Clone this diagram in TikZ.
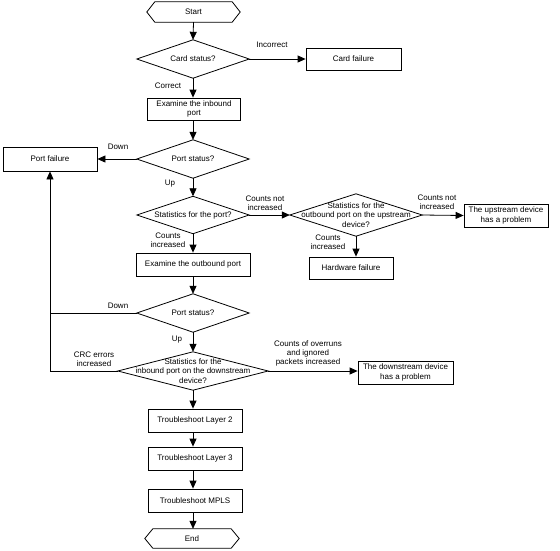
\documentclass[tikz,border=0pt]{standalone}
\usepackage{fontspec}
\setmainfont{Liberation Sans}
\usetikzlibrary{arrows.meta}
\newcommand\fs{\fontsize{8}{9.3}\selectfont}
\newcommand\drawdia[1]{\draw[ln] (#1.north) -- (#1.east) -- (#1.south) -- (#1.west) -- cycle;}
\newcommand\drawhex[1]{\draw[ln] ([xshift=8pt]#1.north west) -- ([xshift=-8pt]#1.north east) -- (#1.east) -- ([xshift=-8pt]#1.south east) -- ([xshift=8pt]#1.south west) -- (#1.west) -- cycle;}
\tikzset{
  ln/.style={line width=0.8pt},
  ghost/.style 2 args={minimum width=#1, minimum height=#2, inner sep=0pt, align=center, font=\fs},
  box/.style 2 args={draw, ln, minimum width=#1, minimum height=#2, inner sep=0pt, align=center, font=\fs},
  lbl/.style={align=center, inner sep=0pt, font=\fs},
  arr/.style={ln, -{Triangle[length=8pt,width=7pt]}},
}
\begin{document}
\begin{tikzpicture}[x=1pt,y=-1pt]
\useasboundingbox (0,0) rectangle (560,550);
% shapes
\node[ghost={93}{20}] (start) at (193.5,12) {Start};
\node[ghost={112}{38}] (card) at (193,59) {Card status?};
\node[box={95}{22}] (cardfail) at (353.5,59) {Card failure};
\node[box={93}{22}] (inb) at (194,109) {Examine the inbound\\port};
\node[ghost={112}{38}] (ps1) at (193,159) {Port status?};
\node[box={94}{24}] (pfail) at (50,159) {Port failure};
\node[ghost={112}{37}] (stat) at (193,215) {Statistics for the port?};
\node[ghost={132}{42}] (up) at (356,215) {Statistics for the\\outbound port on the upstream\\device?};
\node[box={84}{23}] (upprob) at (506,215.5) {The upstream device\\has a problem};
\node[box={84}{22}] (hw) at (351,268) {Hardware failure};
\node[box={114}{23}] (outb) at (193,264.5) {Examine the outbound port};
\node[ghost={112}{38}] (ps2) at (193,313) {Port status?};
\node[ghost={150}{38}] (down) at (193,371) {Statistics for the\\inbound port on the downstream\\device?};
\node[box={95}{23}] (downprob) at (405.5,372.5) {The downstream device\\has a problem};
\node[box={94}{23}] (l2) at (195,420.5) {Troubleshoot Layer 2};
\node[box={94}{23}] (l3) at (195,458.5) {Troubleshoot Layer 3};
\node[box={94}{23}] (mpls) at (195,500.5) {Troubleshoot MPLS};
\node[ghost={94}{19}] (end) at (192,538.5) {End};
\drawhex{start}
\drawhex{end}
\drawdia{card}
\drawdia{ps1}
\drawdia{stat}
\drawdia{up}
\drawdia{ps2}
\drawdia{down}
% labels
\node[lbl] (lincorrect) at (272,45) {Incorrect};
\node[lbl] (lcorrect) at (168,86) {Correct};
\node[lbl] (ldown1) at (118,147) {Down};
\node[lbl] (lup1) at (170,184) {Up};
\node[lbl] (lcni1) at (265,203) {Counts not\\increased};
\node[lbl] (lcni2) at (437,202.5) {Counts not\\increased};
\node[lbl] (lci2) at (328,242) {Counts\\increased};
\node[lbl] (lci1) at (168,240) {Counts\\increased};
\node[lbl] (ldown2) at (118,306) {Down};
\node[lbl] (lup2) at (177,340) {Up};
\node[lbl] (lcrc) at (94,359) {CRC errors\\increased};
\node[lbl] (lover) at (308,353.5) {Counts of overruns\\and ignored\\packets increased};
% connectors
\draw[arr] (start.south) -- (card.north);
\draw[arr] (card.east) -- (cardfail.west);
\draw[arr] (card.south) -- (card.south |- inb.north);
\draw[arr] (card.south |- inb.south) -- (ps1.north);
\draw[arr] (ps1.west) -- (pfail.east);
\draw[arr] (ps1.south) -- (stat.north);
\draw[arr] (stat.east) -- (up.west);
\draw[arr] (up.east) -- (upprob.west);
\draw[arr] (up.south) -- (up.south |- hw.north);
\draw[arr] (stat.south) -- (outb.north);
\draw[arr] (outb.south) -- (ps2.north);
\draw[arr] (ps2.west) -- (pfail.south |- ps2.west) -- (pfail.south);
\draw[ln] (down.west) -- (pfail.south |- down.west) -- (pfail.south |- ps2.west);
\draw[arr] (ps2.south) -- (down.north);
\draw[arr] (down.east) -- (down.east -| downprob.west);
\draw[arr] (down.south) -- (down.south |- l2.north);
\draw[arr] (down.south |- l2.south) -- (down.south |- l3.north);
\draw[arr] (down.south |- l3.south) -- (down.south |- mpls.north);
\draw[arr] (down.south |- mpls.south) -- (down.south |- end.north);
\end{tikzpicture}
\end{document}
